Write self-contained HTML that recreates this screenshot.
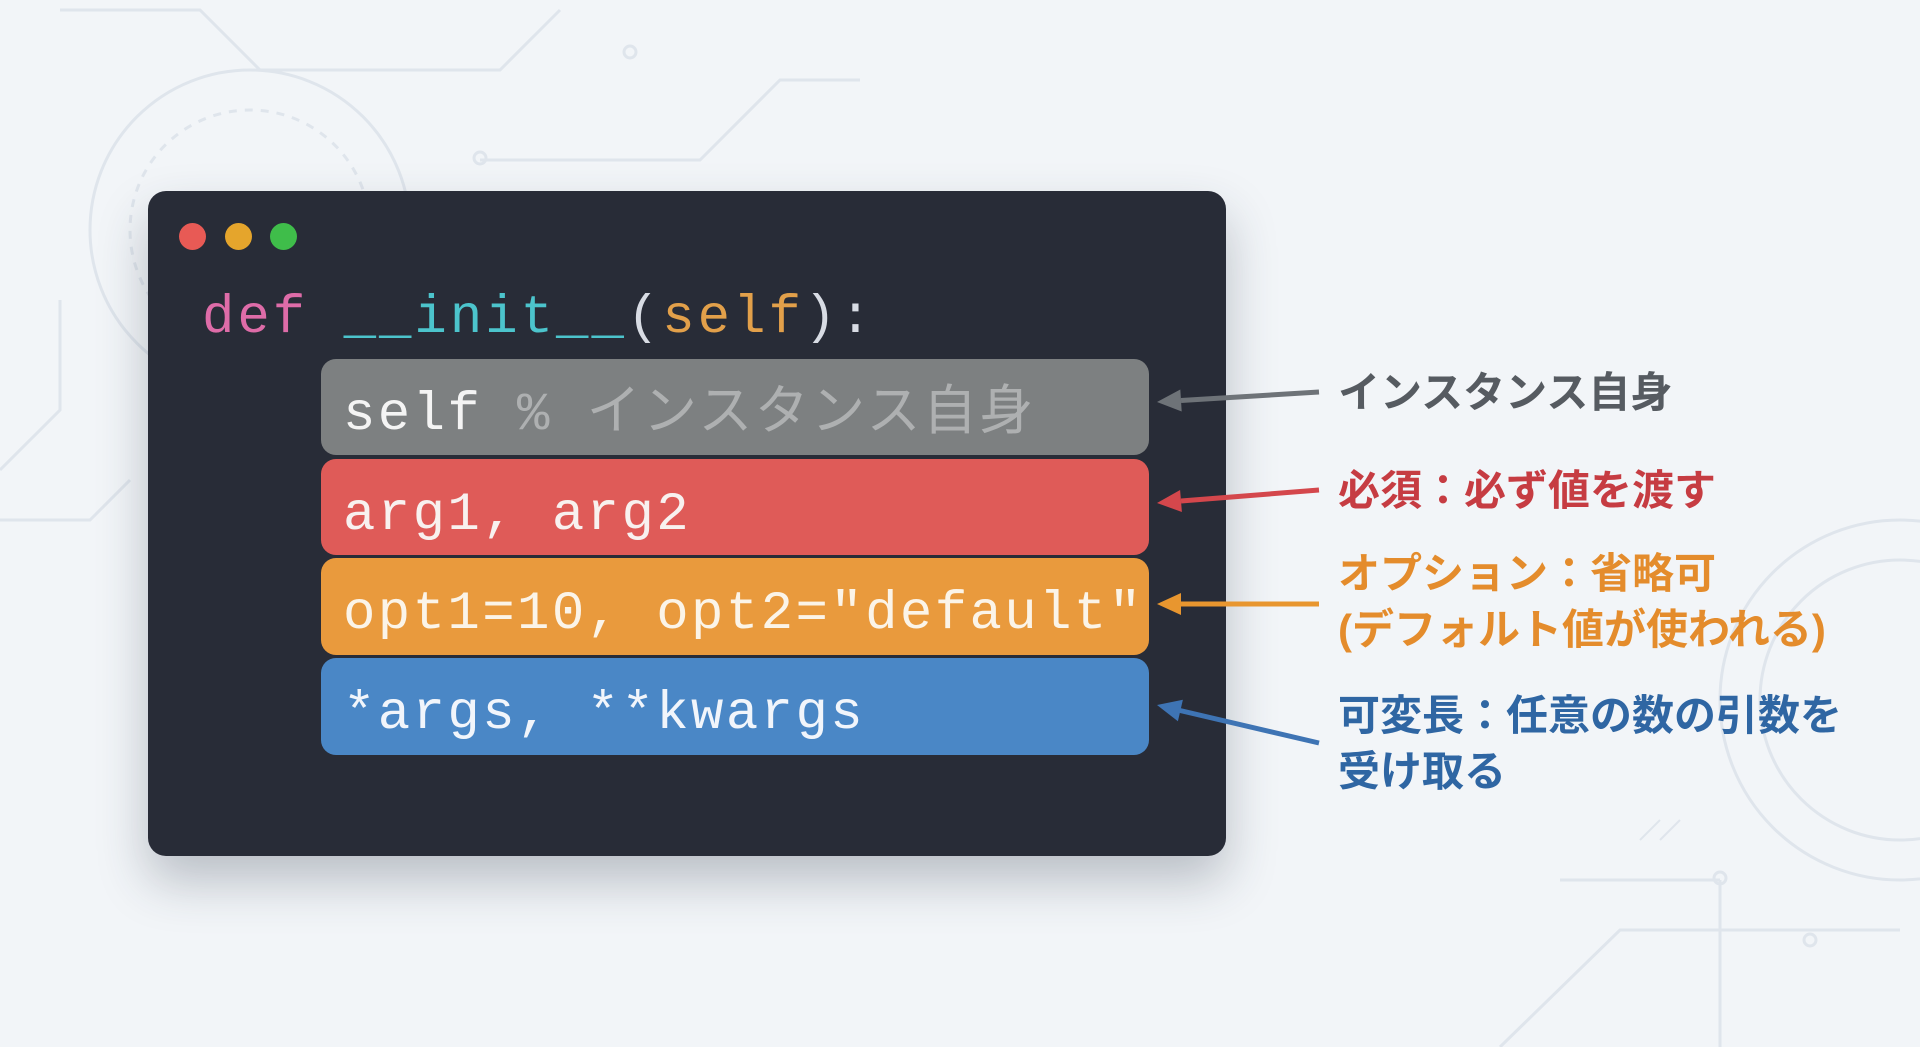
<!DOCTYPE html>
<html><head><meta charset="utf-8"><style>
body{margin:0;width:1920px;height:1047px;overflow:hidden;background:#f2f5f8;font-family:"Liberation Sans","Noto Sans CJK JP",sans-serif;position:relative}
.win{position:absolute;left:148px;top:191px;width:1078px;height:665px;background:#282c37;border-radius:18px;box-shadow:0 25px 50px rgba(40,50,70,.28)}
.dot{position:absolute;top:223px;width:27px;height:27px;border-radius:50%}
.code{position:absolute;font-family:"Liberation Mono","Noto Sans CJK JP",monospace;font-size:54px;letter-spacing:2.4px;white-space:pre;line-height:1}
.bar{position:absolute;left:321px;width:828px;border-radius:15px}
.lbl{position:absolute;left:1338px;font-weight:bold;font-size:42px;line-height:56px;white-space:nowrap}
</style></head><body>
<svg width="1920" height="1047" style="position:absolute;left:0;top:0" fill="none" stroke="#dfe5ec" stroke-width="3">
<circle cx="250" cy="230" r="160"/><circle cx="250" cy="230" r="120" stroke-dasharray="8 8"/>
<path d="M60 10 L200 10 L260 70 L500 70 L560 10"/><path d="M480 160 L700 160 L780 80 L860 80"/>
<circle cx="480" cy="158" r="6"/><circle cx="630" cy="52" r="6"/>
<path d="M0 470 L60 410 L60 300"/><path d="M0 520 L90 520 L130 480"/>
<circle cx="1900" cy="700" r="180"/><circle cx="1900" cy="700" r="140"/>
<path d="M1500 1047 L1620 930 L1900 930"/><path d="M1720 880 L1720 1047"/><path d="M1560 880 L1720 880"/>
<circle cx="1720" cy="878" r="6"/><circle cx="1810" cy="940" r="6"/>
<path d="M1640 840 L1660 820 M1660 840 L1680 820" stroke-width="2"/>
</svg>
<div class="win"></div>
<div class="dot" style="left:179px;background:#e85a55"></div>
<div class="dot" style="left:225px;background:#e5a52c"></div>
<div class="dot" style="left:270px;background:#3fbd4a"></div>
<div class="code" style="left:202px;top:292px;letter-spacing:3px"><span style="color:#de6ca8">def</span> <span style="color:#4cc4cc">__init__</span><span style="color:#d8dce4">(</span><span style="color:#e2a04a">self</span><span style="color:#d8dce4">):</span></div>
<div class="bar" style="top:359px;height:96px;background:#7d8081"></div>
<div class="bar" style="top:459px;height:96px;background:#df5b58"></div>
<div class="bar" style="top:558px;height:97px;background:#e99a3d"></div>
<div class="bar" style="top:658px;height:97px;background:#4a87c6"></div>
<div class="code" style="left:343px;top:389px;color:#f4f4f4">self <span style="color:#aeb0b1">% インスタンス自身</span></div>
<div class="code" style="left:343px;top:489px;color:#f8f1ef">arg1, arg2</div>
<div class="code" style="left:343px;top:588px;color:#fbf4e8">opt1=10, opt2="default"</div>
<div class="code" style="left:343px;top:688px;color:#f1f5fb">*args, **kwargs</div>
<svg width="1920" height="1047" style="position:absolute;left:0;top:0" stroke-width="5">
<line x1="1319" y1="392" x2="1181" y2="400.5" stroke="#6e7378"/>
<polygon points="1157,402 1181.7,411.5 1180.3,389.5" fill="#6e7378"/>
<line x1="1319" y1="490" x2="1181" y2="501" stroke="#d4474c"/>
<polygon points="1157,503 1181.9,512 1180.1,490" fill="#d4474c"/>
<line x1="1319" y1="604" x2="1181" y2="604" stroke="#e8962f"/>
<polygon points="1157,604 1181,615 1181,593" fill="#e8962f"/>
<line x1="1319" y1="743" x2="1180" y2="710.5" stroke="#3e74b4"/>
<polygon points="1157,705 1177.9,721.2 1182.9,699.8" fill="#3e74b4"/>
</svg>
<div class="lbl" style="top:365px;color:#565b61">インスタンス自身</div>
<div class="lbl" style="top:463px;color:#c63c42">必須：必ず値を渡す</div>
<div class="lbl" style="top:546px;color:#e48c2c">オプション：省略可<br>(デフォルト値が使われる)</div>
<div class="lbl" style="top:688px;color:#2f66a3">可変長：任意の数の引数を<br>受け取る</div>
</body></html>
